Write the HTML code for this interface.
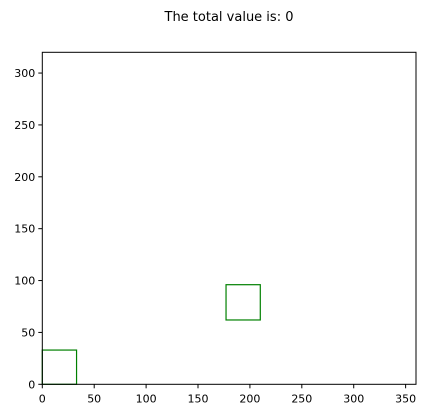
<!DOCTYPE html>
<html><head><meta charset="utf-8"><style>
html,body{margin:0;padding:0;background:#fff;}
svg{display:block;font-family:"DejaVu Sans","Liberation Sans",sans-serif;}
</style></head><body>
<svg id="chart" width="428" height="415">
<text x="229" y="21" text-anchor="middle" font-size="13">The total value is: 0</text>
<g id="plot"></g>
</svg>
<script>
const rectX = [0, 177];
const rectY = [0, 62];
const rectW = [33, 33];
const rectH = [33, 34];
const xTicks = [0, 50, 100, 150, 200, 250, 300, 350];
const yTicks = [0, 50, 100, 150, 200, 250, 300];
const L=42.3,R=416,T=52.3,B=384.3,XMAX=360,YMAX=320;
const sx=v=>L+v/XMAX*(R-L), sy=v=>B-v/YMAX*(B-T);
const NS="http://www.w3.org/2000/svg", g=document.getElementById('plot');
function mk(t,a){const e=document.createElementNS(NS,t);for(const k in a)e.setAttribute(k,a[k]);g.appendChild(e);return e;}
for(let i=0;i<rectX.length;i++){
  const r=mk('rect',{x:sx(rectX[i]),y:sy(rectY[i]+rectH[i]),width:sx(rectW[i])-sx(0),height:sy(0)-sy(rectH[i]),fill:'none',stroke:'#008000','stroke-width':1.2});
  
  
}
const frame=mk('rect',{x:L,y:T,width:R-L,height:B-T,fill:'none',stroke:'#000','stroke-width':1});


xTicks.forEach(v=>{
  const x=sx(v);
  mk('line',{x1:x,x2:x,y1:B,y2:B+4,stroke:'#000'});
  const t=mk('text',{x:x,y:B+18,'text-anchor':'middle','font-size':11});
  t.textContent=v;
  
  
});
yTicks.forEach(v=>{
  const y=sy(v);
  mk('line',{x1:L-4,x2:L,y1:y,y2:y,stroke:'#000'});
  const t=mk('text',{x:L-7,y:y+4,'text-anchor':'end','font-size':11});
  t.textContent=v;
  
  
});
</script>
</body></html>
